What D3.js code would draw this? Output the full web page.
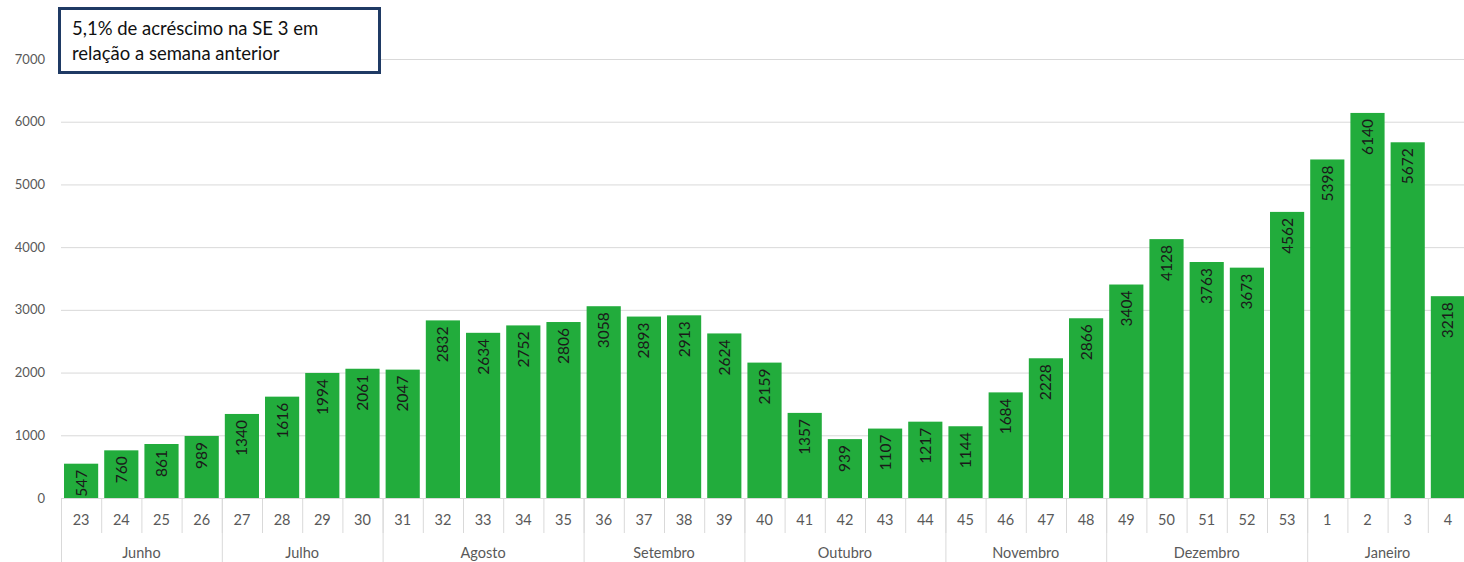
<!DOCTYPE html>
<html>
<head>
<meta charset="utf-8">
<script src="https://cdn.jsdelivr.net/npm/d3@7"></script>
<style>
  body { margin: 0; background: #fff; }
  svg { display: block; font-family: Lato, "Open Sans", sans-serif; }
</style>
</head>
<body>
<svg id="svg"></svg>
<script>
// weekly values, SE 23 (2020) to SE 4 (2021)
const weeks = ["23","24","25","26","27","28","29","30","31","32","33","34","35","36","37","38","39",
  "40","41","42","43","44","45","46","47","48","49","50","51","52","53","1","2","3","4"];
const values = [547,760,861,989,1340,1616,1994,2061,2047,2832,2634,2752,2806,3058,2893,2913,2624,
  2159,1357,939,1107,1217,1144,1684,2228,2866,3404,4128,3763,3673,4562,5398,6140,5672,3218];
const months = ["Junho","Julho","Agosto","Setembro","Outubro","Novembro","Dezembro","Janeiro"];
const monthWeeks = [4,4,5,4,5,4,5,4];
const yTicks = [0,1000,2000,3000,4000,5000,6000,7000];
const note = ["5,1% de acréscimo na SE 3 em", "relação a semana anterior"];

let width = 1464;
let height = 562;
let svg = d3.select("#svg").attr("width", width).attr("height", height);

let x = d3.scaleBand()
    .domain(d3.range(weeks.length))
    .range([61, 1468])
    .paddingInner(0.15)
    .paddingOuter(0.075);

let y = d3.scaleLinear()
    .domain([0, 7000])
    .range([498, 59]);

// gridlines
svg.append("g")
    .selectAll("line")
    .data(yTicks)
    .join("line")
    .attr("x1", 61)
    .attr("x2", width)
    .attr("y1", d => y(d) + 0.5)
    .attr("y2", d => y(d) + 0.5)
    .attr("stroke", "#d9d9d9")
    .attr("stroke-width", 1);

// y labels
svg.append("g")
    .selectAll("text")
    .data(yTicks)
    .join("text")
    .attr("x", 45)
    .attr("y", d => y(d))
    .attr("dy", "0.35em")
    .attr("text-anchor", "end")
    .attr("font-size", "13px")
    .attr("fill", "#595959")
    .text(d => d);

// bars
svg.append("g")
    .selectAll("rect")
    .data(values)
    .join("rect")
    .attr("x", (d, i) => x(i))
    .attr("y", d => y(d))
    .attr("width", x.bandwidth())
    .attr("height", d => y(0) - y(d))
    .attr("fill", "#22ac3c");

// value labels inside bars
svg.append("g")
    .selectAll("text")
    .data(values)
    .join("text")
    .attr("transform", (d, i) => "translate(" + (x(i) + x.bandwidth() / 2) + "," + (y(d) + 6) + ") rotate(-90)")
    .attr("text-anchor", "end")
    .attr("dy", "0.35em")
    .attr("font-size", "15.5px")
    .attr("fill", "#1a1a1a")
    .text(d => d);

// category axis
let step = x.step();
let x0 = x.range()[0];
let axis = svg.append("g");

axis.append("line")
    .attr("x1", x0).attr("x2", width)
    .attr("y1", 498.5).attr("y2", 498.5)
    .attr("stroke", "#d9d9d9");

axis.selectAll(".wk-sep")
    .data(d3.range(weeks.length + 1))
    .join("line")
    .attr("class", "wk-sep")
    .attr("x1", i => x0 + i * step + 0.5)
    .attr("x2", i => x0 + i * step + 0.5)
    .attr("y1", 498)
    .attr("y2", 533)
    .attr("stroke", "#d9d9d9");

axis.selectAll(".wk")
    .data(weeks)
    .join("text")
    .attr("class", "wk")
    .attr("x", (d, i) => x(i) + x.bandwidth() / 2)
    .attr("y", 520)
    .attr("dy", "0.35em")
    .attr("text-anchor", "middle")
    .attr("font-size", "14.5px")
    .attr("fill", "#595959")
    .text(d => d);

let starts = [0];
monthWeeks.forEach((n, i) => starts.push(starts[i] + n));

axis.selectAll(".mo-sep")
    .data(starts)
    .join("line")
    .attr("class", "mo-sep")
    .attr("x1", s => x0 + s * step + 0.5)
    .attr("x2", s => x0 + s * step + 0.5)
    .attr("y1", 498)
    .attr("y2", height)
    .attr("stroke", "#d9d9d9");

axis.selectAll(".mo")
    .data(months)
    .join("text")
    .attr("class", "mo")
    .attr("x", (d, i) => x0 + (starts[i] + monthWeeks[i] / 2) * step)
    .attr("y", 553)
    .attr("dy", "0.35em")
    .attr("text-anchor", "middle")
    .attr("font-size", "14.5px")
    .attr("fill", "#595959")
    .text(d => d);

// annotation box
let box = svg.append("g");
box.append("rect")
    .attr("x", 59.5)
    .attr("y", 8.5)
    .attr("width", 320)
    .attr("height", 64)
    .attr("fill", "#fff")
    .attr("stroke", "#1f3a64")
    .attr("stroke-width", 3);

box.selectAll("text")
    .data(note)
    .join("text")
    .attr("x", 72)
    .attr("y", (d, i) => 35 + i * 25)
    .attr("font-size", "18.5px")
    .attr("fill", "#111")
    .text(d => d);
</script>
</body>
</html>
